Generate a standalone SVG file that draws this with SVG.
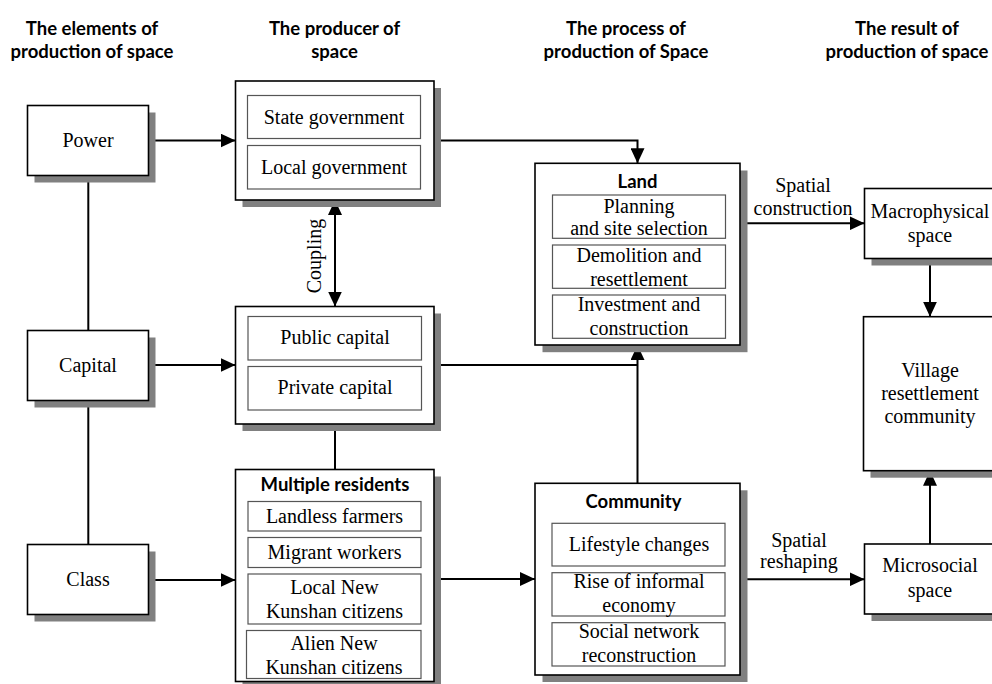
<svg xmlns="http://www.w3.org/2000/svg" width="992" height="684" viewBox="0 0 992 684">
<defs>
<style>
.sh{fill:#808080}
.box{fill:#fff;stroke:#000;stroke-width:1.6}
.in{fill:#fff;stroke:#555;stroke-width:1.2}
.t{font-family:"Liberation Serif",serif;font-size:20px;text-anchor:middle;fill:#000}
.h{font-family:Lato,"Liberation Sans",sans-serif;font-weight:bold;font-size:18.5px;text-anchor:middle;fill:#000}
.c{stroke:#000;stroke-width:2;fill:none}
</style>
<marker id="ah" markerUnits="userSpaceOnUse" markerWidth="15" markerHeight="14" refX="15" refY="7" orient="auto-start-reverse">
<path d="M0,0 L15,7 L0,14 z" fill="#000"/>
</marker>
</defs>
<rect width="992" height="684" fill="#fff"/>

<g id="headings">
<text class="h" x="92" y="35">The elements of</text>
<text class="h" x="92" y="57.5">production of space</text>
<text class="h" x="334.5" y="35">The producer of</text>
<text class="h" x="334.5" y="57.5">space</text>
<text class="h" x="626" y="35">The process of</text>
<text class="h" x="626" y="57.5">production of Space</text>
<text class="h" x="907" y="35">The result of</text>
<text class="h" x="907" y="57.5">production of space</text>
</g>

<g id="connectors">
<path class="c" d="M148.7,140.5 H235.5" marker-end="url(#ah)"/>
<path class="c" d="M148.7,365 H235.5" marker-end="url(#ah)"/>
<path class="c" d="M148.7,580 H235.5" marker-end="url(#ah)"/>
<path class="c" d="M88.3,175.7 V330.5"/>
<path class="c" d="M88.3,400.5 V544.5"/>
<path class="c" d="M335,200 V306.5" marker-start="url(#ah)" marker-end="url(#ah)"/>
<path class="c" d="M335,424 V469.5"/>
<path class="c" d="M434,140.5 H637.5 V163.3" marker-end="url(#ah)"/>
<path class="c" d="M434,365 H637.5"/>
<path class="c" d="M637.5,483.3 V345" marker-end="url(#ah)"/>
<path class="c" d="M434,579 H535" marker-end="url(#ah)"/>
<path class="c" d="M740,223.3 H864.5" marker-end="url(#ah)"/>
<path class="c" d="M930,258.5 V316.7" marker-end="url(#ah)"/>
<path class="c" d="M740,579.3 H864.5" marker-end="url(#ah)"/>
<path class="c" d="M930,544 V470.7" marker-end="url(#ah)"/>
<text class="t" x="803" y="191.7">Spatial</text>
<text class="t" x="803" y="215">construction</text>
<text class="t" x="799" y="546.7">Spatial</text>
<text class="t" x="799" y="568.3">reshaping</text>
<text class="t" transform="translate(320.5,256) rotate(-90)">Coupling</text>
</g>

<g id="power">
<rect class="sh" x="34.5" y="112.5" width="121" height="70"/>
<rect class="box" x="27.5" y="105.5" width="121" height="70"/>
<text class="t" x="88" y="147">Power</text>
</g>
<g id="capital">
<rect class="sh" x="34.5" y="337.5" width="121" height="70"/>
<rect class="box" x="27.5" y="330.5" width="121" height="70"/>
<text class="t" x="88" y="372">Capital</text>
</g>
<g id="class">
<rect class="sh" x="34.5" y="551.5" width="121" height="70"/>
<rect class="box" x="27.5" y="544.5" width="121" height="70"/>
<text class="t" x="88" y="586">Class</text>
</g>

<g id="government">
<rect class="sh" x="242.5" y="88" width="198.5" height="119"/>
<rect class="box" x="235.5" y="81" width="198.5" height="119"/>
<rect class="in" x="247.5" y="95.5" width="173" height="43"/>
<text class="t" x="334" y="124">State government</text>
<rect class="in" x="247.5" y="145.5" width="173" height="43.5"/>
<text class="t" x="334" y="174">Local government</text>
</g>

<g id="capital-producer">
<rect class="sh" x="242.5" y="313.5" width="198.5" height="117.5"/>
<rect class="box" x="235.5" y="306.5" width="198.5" height="117.5"/>
<rect class="in" x="248" y="316.5" width="173.5" height="43.5"/>
<text class="t" x="335" y="344">Public capital</text>
<rect class="in" x="248" y="366.5" width="173.5" height="43.5"/>
<text class="t" x="335" y="394">Private capital</text>
</g>

<g id="residents">
<rect class="sh" x="242.5" y="476.5" width="198.5" height="212"/>
<rect class="box" x="235.5" y="469.5" width="198.5" height="212"/>
<text class="h" x="335" y="490.7">Multiple residents</text>
<rect class="in" x="248" y="501.5" width="173" height="29.5"/>
<text class="t" x="334.5" y="522.5">Landless farmers</text>
<rect class="in" x="248" y="537.5" width="173" height="30"/>
<text class="t" x="334.5" y="559">Migrant workers</text>
<rect class="in" x="248" y="574" width="173" height="50"/>
<text class="t" x="334.5" y="593.5">Local New</text>
<text class="t" x="334.5" y="618">Kunshan citizens</text>
<rect class="in" x="246.5" y="630.5" width="174.5" height="48"/>
<text class="t" x="334" y="649.5">Alien New</text>
<text class="t" x="334" y="673.5">Kunshan citizens</text>
</g>

<g id="land">
<rect class="sh" x="542.5" y="170.5" width="205" height="181.7"/>
<rect class="box" x="535" y="163.3" width="205" height="181.7"/>
<text class="h" x="637.5" y="187.5">Land</text>
<rect class="in" x="552.5" y="195" width="173" height="43.3"/>
<text class="t" x="639" y="212.5">Planning</text>
<text class="t" x="639" y="235">and site selection</text>
<rect class="in" x="552.5" y="245" width="173" height="43.3"/>
<text class="t" x="639" y="261.5">Demolition and</text>
<text class="t" x="639" y="285.5">resettlement</text>
<rect class="in" x="552.5" y="295" width="173" height="43.3"/>
<text class="t" x="639" y="311">Investment and</text>
<text class="t" x="639" y="335">construction</text>
</g>

<g id="community">
<rect class="sh" x="542.5" y="490.3" width="205" height="191.7"/>
<rect class="box" x="535" y="483.3" width="205" height="191.7"/>
<text class="h" x="633.5" y="508.3">Community</text>
<rect class="in" x="552" y="523.3" width="173" height="42.7"/>
<text class="t" x="639" y="550.7">Lifestyle changes</text>
<rect class="in" x="552" y="572.7" width="173" height="43.3"/>
<text class="t" x="639" y="588.3">Rise of informal</text>
<text class="t" x="639" y="611.7">economy</text>
<rect class="in" x="552" y="622.7" width="173" height="43.3"/>
<text class="t" x="639" y="638.3">Social network</text>
<text class="t" x="639" y="661.7">reconstruction</text>
</g>

<g id="macrophysical">
<rect class="sh" x="871.5" y="195.5" width="140" height="70"/>
<rect class="box" x="864.5" y="188.5" width="140" height="70"/>
<text class="t" x="930" y="218.3">Macrophysical</text>
<text class="t" x="930" y="241.7">space</text>
</g>
<g id="village">
<rect class="sh" x="870.5" y="323.7" width="140" height="154"/>
<rect class="box" x="863.5" y="316.7" width="140" height="154"/>
<text class="t" x="930" y="376.7">Village</text>
<text class="t" x="930" y="400">resettlement</text>
<text class="t" x="930" y="423.3">community</text>
</g>
<g id="microsocial">
<rect class="sh" x="871.5" y="551" width="140" height="70"/>
<rect class="box" x="864.5" y="544" width="140" height="70"/>
<text class="t" x="930" y="571.7">Microsocial</text>
<text class="t" x="930" y="596.7">space</text>
</g>
</svg>
